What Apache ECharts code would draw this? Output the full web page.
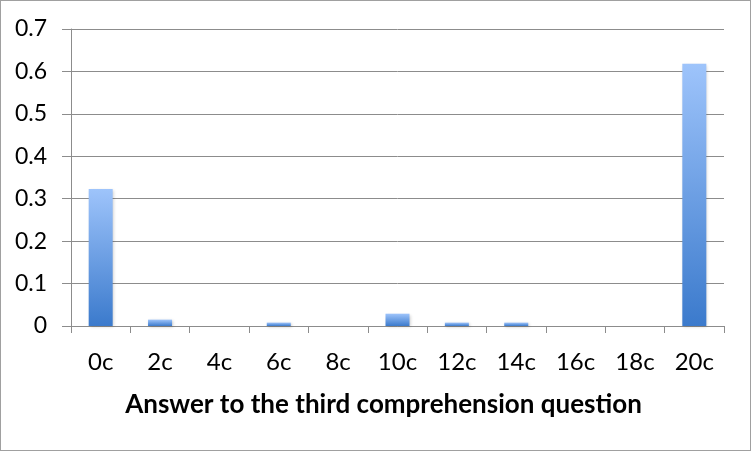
<!DOCTYPE html>
<html>
<head>
<meta charset="utf-8">
<script src="https://cdn.jsdelivr.net/npm/echarts@6/dist/echarts.min.js"></script>
<style>
  html, body { margin: 0; padding: 0; background: #fff; }
  #chart { width: 753px; height: 453px; }
  #frame { position: absolute; left: 0; top: 0; width: 749px; height: 449px; border: 1px solid #a0a0a0; pointer-events: none; }
</style>
</head>
<body>
<div id="chart"></div>
<div id="frame"></div>
<script>
const categories = ['0c', '2c', '4c', '6c', '8c', '10c', '12c', '14c', '16c', '18c', '20c'];
const shares = [0.323, 0.015, 0, 0.008, 0, 0.029, 0.008, 0.008, 0, 0, 0.618];
const yTicks = [0, 0.1, 0.2, 0.3, 0.4, 0.5, 0.6, 0.7];

const chart = echarts.init(document.getElementById('chart'));

const font = 'Lato, "Open Sans", sans-serif';

const option = {
  animation: false,
  grid: { left: 71, right: 29, top: 29, bottom: 127, containLabel: false },
  xAxis: {
    type: 'category',
    data: categories,
    name: 'Answer to the third comprehension question',
    nameLocation: 'middle',
    nameGap: 66,
    nameTextStyle: { fontFamily: font, fontSize: 26, fontWeight: 'bold', color: '#000', padding: [0, 28, 0, 0] },
    axisLine: { lineStyle: { color: '#8c8c8c', width: 1 } },
    axisTick: { show: true, alignWithLabel: false, length: 7, lineStyle: { color: '#8c8c8c' } },
    axisLabel: { fontFamily: font, fontSize: 24, color: '#000', margin: 24 }
  },
  yAxis: {
    type: 'value',
    min: 0,
    max: 0.7,
    interval: 0.1,
    axisLine: { show: true, lineStyle: { color: '#8c8c8c', width: 1 } },
    axisTick: { show: true, length: 9, lineStyle: { color: '#8c8c8c' } },
    axisLabel: {
      fontFamily: font, fontSize: 23, color: '#000', margin: 24,
      formatter: v => {
        const t = yTicks.find(x => Math.abs(x - v) < 1e-9);
        return t === 0 ? '0' : String(Math.round(v * 10) / 10);
      }
    },
    splitLine: { lineStyle: { color: '#8c8c8c', width: 1 } }
  },
  series: [{
    type: 'bar',
    data: shares,
    barWidth: 24,
    itemStyle: {
      color: new echarts.graphic.LinearGradient(0, 0, 0, 1, [
        { offset: 0, color: '#9ec4fb' },
        { offset: 1, color: '#3b7acc' }
      ]),
      shadowColor: 'rgba(0,0,0,0.2)',
      shadowBlur: 3,
      shadowOffsetX: 1,
      shadowOffsetY: 1
    }
  }]
};

chart.setOption(option);
</script>
</body>
</html>
